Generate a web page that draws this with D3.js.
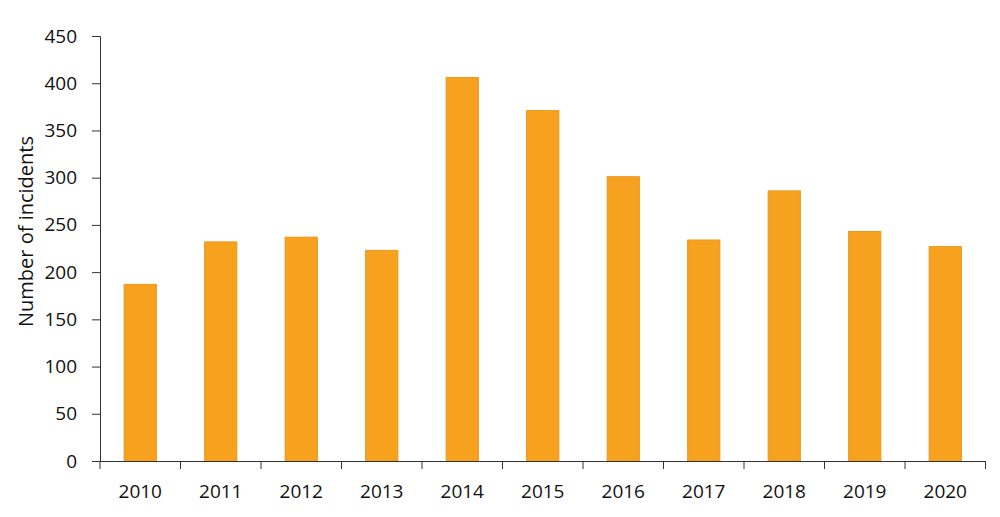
<!DOCTYPE html>
<html><head><meta charset="utf-8">
<script src="https://cdn.jsdelivr.net/npm/d3@7"></script>
<style>body{margin:0;background:#fff;} text{font-family:"Open Sans","Noto Sans",sans-serif;}</style>
</head><body><svg id="c" width="1000" height="517"></svg>
<script>
const years = ["2010","2011","2012","2013","2014","2015","2016","2017","2018","2019","2020"];
const incidents = [187,232,237,223,406,371,301,234,286,243,227];
const yTicks = [0,50,100,150,200,250,300,350,400,450];

const svg = d3.select("#c");
const m = {left:100, right:1000-985.5, top:36, bottom:517-461};
const W = 1000, H = 517;
const x = d3.scaleBand().domain(years).range([m.left, W-m.right]).paddingInner(0.6).paddingOuter(0.3);
const y = d3.scaleLinear().domain([0,450]).range([H-m.bottom, m.top]);

svg.append("g").selectAll("rect").data(incidents).join("rect")
  .attr("x",(d,i)=>x(years[i])).attr("width",x.bandwidth())
  .attr("y",d=>y(d)).attr("height",d=>y(0)-y(d))
  .attr("fill","#F7A21F").attr("stroke","#EE961C").attr("stroke-width",1);

const ya = svg.append("g").attr("transform",`translate(${m.left},0)`)
  .call(d3.axisLeft(y).tickValues(yTicks).tickSize(8).tickPadding(15));
const xb = d3.scaleBand().domain(years).range([m.left, W-m.right]);
const xa = svg.append("g").attr("transform",`translate(0,${y(0)})`)
  .call(d3.axisBottom(xb).tickSize(0).tickPadding(24));
xa.selectAll("line.bt").data(d3.range(years.length+1)).join("line").attr("class","bt")
  .attr("x1",i=>m.left+i*xb.step()).attr("x2",i=>m.left+i*xb.step())
  .attr("y1",0).attr("y2",8).attr("stroke","#333");
[ya,xa].forEach(a=>{
  a.selectAll(".domain").attr("stroke","#333");
  a.selectAll(".tick line").attr("stroke","#333");
  a.selectAll("text").attr("font-size",19).attr("fill","#111").attr("font-family","'Open Sans','Noto Sans',sans-serif");
});
svg.append("text").attr("transform",`translate(33,${(y(0)+y(450))/2 - 17}) rotate(-90)`)
  .attr("text-anchor","middle").attr("font-size",20).attr("fill","#111").text("Number of incidents");
</script></body></html>
